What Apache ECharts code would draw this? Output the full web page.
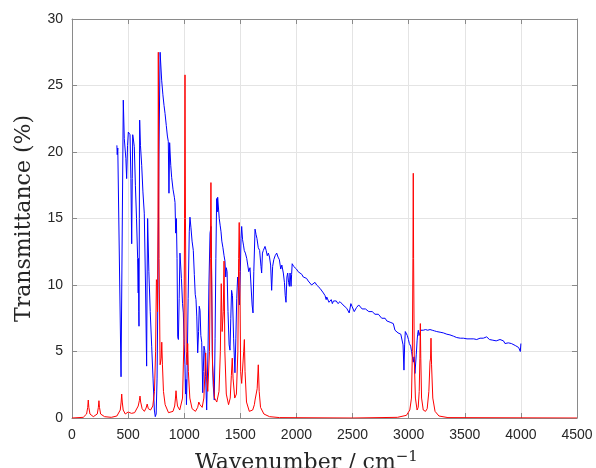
<!DOCTYPE html>
<html>
<head>
<meta charset="utf-8">
<script src="https://cdn.jsdelivr.net/npm/echarts@6/dist/echarts.min.js"></script>
<style>
html,body{margin:0;padding:0;background:#fff;}
#chart{width:596px;height:468px;}
</style>
</head>
<body>
<div id="chart"></div>
<script>
// Axis settings
const xTicks = [0, 500, 1000, 1500, 2000, 2500, 3000, 3500, 4000, 4500];
const yTicks = [0, 5, 10, 15, 20, 25, 30];
const xAxisTitle = 'Wavenumber / cm';
const xAxisTitleSup = '\u22121';
const yAxisTitle = 'Transmittance (%)';

// Experimental spectrum (blue): [wavenumber, transmittance]
const experimental = [
[400,20.5],[403,19.8],[408,20.3],[437,3.1],[457,23.9],[466,21.0],[472,20.9],[480,19.5],[487,18.0],[495,20.5],
[502,21.5],[510,21.4],[517,21.3],[525,18],[532,13.1],[537,18],[541,21.3],[548,20.9],[555,20.4],[565,17.5],
[575,15],[585,12],[590,9.4],[592,12],[595,8],[597,6.9],[600,15],[603,22.4],[610,20.5],[621,19.0],
[632,17],[644,15.4],[655,10],[665,3.9],[669,10],[674,15.0],[685,11],[697,8],[710,5.4],[722,3],
[734,0.6],[742,0.1],[750,0.3],[758,3],[766,10],[775,20],[785,27.5],[795,27.5],[799,25.4],[810,24.3],
[820,23.5],[829,22.9],[840,22],[850,21.2],[858,20.8],[864,16.9],[870,20.7],[880,19],[888,18.1],[900,17.2],
[912,16.6],[918,16.2],[924,13.9],[930,15.0],[936,12],[942,6.1],[948,5.9],[955,9],[962,12.4],[975,10.5],
[985,8.6],[992,7.9],[1000,5.5],[1007,4.0],[1012,1.8],[1016,2.9],[1020,1.0],[1025,3],[1035,9],[1045,14],
[1051,15.1],[1060,14.3],[1070,13.3],[1081,12.6],[1090,10.8],[1098,9.3],[1105,8.9],[1112,7.6],[1120,4.9],[1128,6.5],
[1134,8.4],[1141,8.1],[1148,6.2],[1156,5.7],[1165,1.9],[1170,3.5],[1176,5.4],[1183,5.1],[1191,3.1],[1200,0.6],
[1206,0.6],[1212,5],[1220,10],[1230,13.9],[1239,14.4],[1245,10],[1250,4.9],[1258,2.5],[1268,1.35],[1275,6],
[1282,12],[1289,16.5],[1295,15.5],[1298,16.6],[1304,16.5],[1312,15],[1320,14.5],[1328,14.0],[1335,13.3],[1345,12.8],
[1355,12.2],[1363,11.8],[1370,10.6],[1375,11.3],[1382,11.0],[1390,8],[1400,5.5],[1408,5.1],[1415,7.5],[1422,9.6],
[1430,9.2],[1440,6],[1452,3.4],[1460,6],[1468,9],[1476,10.6],[1484,9.8],[1492,8.5],[1500,11],[1506,13.5],
[1512,14.4],[1520,13.4],[1528,13.0],[1535,12.6],[1545,12.4],[1557,12.0],[1566,12.0],[1575,11.0],[1586,11.3],[1595,10],
[1605,8.5],[1613,7.9],[1620,11],[1631,14.2],[1640,13.8],[1648,13.5],[1660,12.8],[1672,12.6],[1684,11.4],[1690,10.9],
[1697,12.4],[1705,12.6],[1712,12.7],[1720,12.9],[1730,12.6],[1740,12.2],[1750,12.4],[1760,12.1],[1770,11.5],[1779,9.6],
[1788,11.4],[1798,11.9],[1810,12.2],[1824,12.4],[1836,12.1],[1848,11.9],[1860,11.2],[1870,11.5],[1883,10.9],[1893,10.2],
[1900,9.2],[1907,8.7],[1915,10.6],[1922,10.9],[1930,10.2],[1937,9.9],[1943,10.9],[1949,10.3],[1952,9.9],[1957,10.8],
[1962,11.6],[1975,11.4],[1987,11.3],[2000,11.2],[2015,11.0],[2032,10.9],[2048,10.8],[2061,10.6],[2075,10.7],[2090,10.5],
[2105,10.3],[2121,10.2],[2135,10.0],[2150,10.0],[2165,10.2],[2180,10.0],[2195,9.9],[2210,9.75],[2225,9.7],[2240,9.4],
[2255,9.2],[2265,8.9],[2270,9.1],[2280,9.0],[2290,8.7],[2299,8.75],[2310,8.9],[2320,8.6],[2330,8.8],[2340,8.7],
[2355,8.8],[2370,8.6],[2380,8.75],[2388,8.75],[2400,8.6],[2415,8.5],[2430,8.4],[2448,8.25],[2460,8.1],[2470,7.9],
[2477,7.9],[2485,8.6],[2495,8.4],[2505,8.4],[2515,8.0],[2525,7.9],[2535,8.3],[2545,8.2],[2555,8.5],[2570,8.4],
[2585,8.2],[2600,8.1],[2615,8.2],[2630,8.1],[2645,8.0],[2660,8.1],[2675,8.0],[2685,8.0],[2700,7.8],[2715,7.75],
[2730,7.8],[2745,7.7],[2760,7.5],[2774,7.4],[2790,7.5],[2805,7.3],[2820,7.3],[2835,7.2],[2850,7.1],[2863,7.1],
[2878,6.6],[2893,6.5],[2905,6.4],[2918,6.4],[2930,6.3],[2938,6.25],[2950,5.5],[2958,3.6],[2964,5.5],[2970,6.5],
[2978,6.5],[2988,6.2],[2998,5.9],[3006,5.6],[3018,5.4],[3026,5.0],[3033,4.6],[3041,4.2],[3048,4.6],[3056,3.35],
[3062,3.3],[3068,4.8],[3075,5.8],[3080,6.3],[3086,6.6],[3092,6.2],[3100,6.4],[3110,6.6],[3116,6.6],[3130,6.6],
[3150,6.65],[3170,6.6],[3190,6.65],[3210,6.6],[3230,6.55],[3250,6.5],[3280,6.45],[3309,6.4],[3340,6.3],[3368,6.25],
[3400,6.15],[3428,6.05],[3460,6.0],[3487,6.0],[3520,5.95],[3547,5.95],[3580,5.95],[3606,5.9],[3620,5.85],[3636,6.0],
[3650,5.85],[3665,6.0],[3680,6.05],[3695,6.1],[3705,6.0],[3712,6.1],[3720,5.9],[3735,5.95],[3750,5.85],[3765,5.95],
[3780,5.8],[3795,5.85],[3814,5.9],[3830,5.75],[3845,5.8],[3858,5.6],[3873,5.6],[3888,5.65],[3900,5.55],[3915,5.6],
[3930,5.5],[3950,5.45],[3965,5.4],[3980,5.3],[3992,5.2],[3995,5.0],[4000,5.6]
];

// Computed spectrum (red): [wavenumber, transmittance]
const computed = [
[0,0],[100,0.05],[130,0.3],[140,0.8],[145,1.35],[150,0.8],[160,0.3],[190,0.1],[225,0.3],[235,0.8],
[240,1.3],[245,0.8],[255,0.3],[290,0.1],[350,0.05],[400,0.15],[430,0.6],[438,1.2],[443,1.8],[448,1.2],
[456,0.6],[475,0.3],[490,0.3],[500,0.45],[510,0.3],[530,0.35],[545,0.5],[558,0.4],[575,0.5],[590,0.9],
[600,1.3],[606,1.65],[612,1.2],[625,0.7],[645,0.5],[660,0.75],[670,1.05],[680,0.7],[700,0.6],[720,0.9],
[735,2.0],[745,5],[752,10.4],[757,10.2],[762,8],[766,15],[769,27.5],[772,27.5],[776,12],[785,4],
[795,4.5],[800,5.7],[806,4],[815,2],[830,1],[860,0.4],[900,0.5],[915,0.9],[922,1.5],[927,2.05],
[932,1.5],[940,0.9],[960,0.6],[985,1.5],[998,6],[1003,15],[1007,25.8],[1011,15],[1018,5],[1025,4],
[1031,5.6],[1037,3.5],[1050,1.5],[1070,0.7],[1100,0.5],[1120,0.8],[1130,1.2],[1140,1.0],[1160,0.8],[1175,1.5],
[1185,3.5],[1191,4.9],[1198,3.0],[1210,2],[1225,5],[1233,12],[1238,17.7],[1243,12],[1252,4],[1270,1.5],
[1290,1.2],[1310,2],[1322,5],[1330,10.1],[1338,6.5],[1348,8],[1355,11.8],[1362,5],[1375,1.8],[1395,1.0],
[1410,1.5],[1420,3.2],[1428,4.5],[1435,3],[1450,1.5],[1465,1.8],[1478,5],[1485,12],[1490,14.7],[1495,11],
[1503,3.5],[1512,2.6],[1520,2.5],[1530,5],[1536,5.9],[1542,3.5],[1555,1.2],[1580,0.5],[1610,0.6],[1625,1.0],
[1631,1.35],[1640,1.2],[1650,2.2],[1660,4.0],[1668,2],[1680,0.8],[1710,0.3],[1760,0.1],[1850,0.03],[2500,0],
[2900,0.05],[2980,0.2],[3010,0.6],[3025,1.5],[3033,5],[3038,12],[3041,18.4],[3044,12],[3050,4.5],[3060,1.5],
[3075,0.6],[3085,0.8],[3094,2],[3100,4.5],[3104,7.1],[3108,4.5],[3115,1.5],[3130,0.6],[3150,0.5],[3165,0.7],
[3180,2.0],[3190,4.2],[3195,4.5],[3199,6.0],[3204,4],[3215,1.5],[3235,0.5],[3270,0.15],[3350,0.03],[4500,0]
];

const axisColor = '#8a8a8a';
const labelColor = '#262626';
const gridColor = '#e4e4e4';

function baseAxis(min, max, interval, pos, showLabel) {
  return {
    type: 'value', min: min, max: max, interval: interval, position: pos,
    axisLine: { show: true, onZero: false, lineStyle: { color: axisColor, width: 1 } },
    axisTick: { show: true, inside: true, length: 5, lineStyle: { color: axisColor } },
    axisLabel: {
      show: showLabel, color: labelColor, fontSize: 14,
      fontFamily: 'Liberation Sans, Arial, sans-serif',
      formatter: function (v) { return String(v); }
    },
    splitLine: { show: showLabel, lineStyle: { color: gridColor, width: 1 } }
  };
}

const chart = echarts.init(document.getElementById('chart'), null, { renderer: 'canvas' });

const xMain = baseAxis(xTicks[0], xTicks[xTicks.length - 1], xTicks[1] - xTicks[0], 'bottom', true);
xMain.axisLabel.margin = 10;
xMain.name = '{m|' + xAxisTitle + '}{s|' + xAxisTitleSup + '}';
xMain.nameLocation = 'middle';
xMain.nameGap = 32;
xMain.nameTextStyle = {
  padding: [0, 36, 0, 0],
  rich: {
    m: { fontFamily: 'DejaVu Serif', fontSize: 22, color: labelColor, lineHeight: 27 },
    s: { fontFamily: 'DejaVu Serif', fontSize: 15, color: labelColor, verticalAlign: 'top', lineHeight: 17 }
  }
};
const xTop = baseAxis(xTicks[0], xTicks[xTicks.length - 1], xTicks[1] - xTicks[0], 'top', false);

const yMain = baseAxis(yTicks[0], yTicks[yTicks.length - 1], yTicks[1] - yTicks[0], 'left', true);
yMain.axisLabel.margin = 9;
yMain.name = yAxisTitle;
yMain.nameLocation = 'middle';
yMain.nameGap = 37;
yMain.nameTextStyle = { fontFamily: 'DejaVu Serif', fontSize: 22, color: labelColor };
const yRight = baseAxis(yTicks[0], yTicks[yTicks.length - 1], yTicks[1] - yTicks[0], 'right', false);

chart.setOption({
  animation: false,
  backgroundColor: '#ffffff',
  grid: { left: 72, right: 19, top: 19, bottom: 50, containLabel: false, outerBoundsMode: 'none' },
  xAxis: [xMain, xTop],
  yAxis: [yMain, yRight],
  series: [
    {
      name: 'Experimental', type: 'line', data: experimental, xAxisIndex: 0, yAxisIndex: 0,
      showSymbol: false, symbol: 'none', lineStyle: { color: '#0000ff', width: 1 }, itemStyle: { color: '#0000ff' },
      clip: true
    },
    {
      name: 'Computed', type: 'line', data: computed, xAxisIndex: 0, yAxisIndex: 0,
      showSymbol: false, symbol: 'none', lineStyle: { color: '#ff0000', width: 1 }, itemStyle: { color: '#ff0000' },
      clip: true
    }
  ]
});
</script>
</body>
</html>
